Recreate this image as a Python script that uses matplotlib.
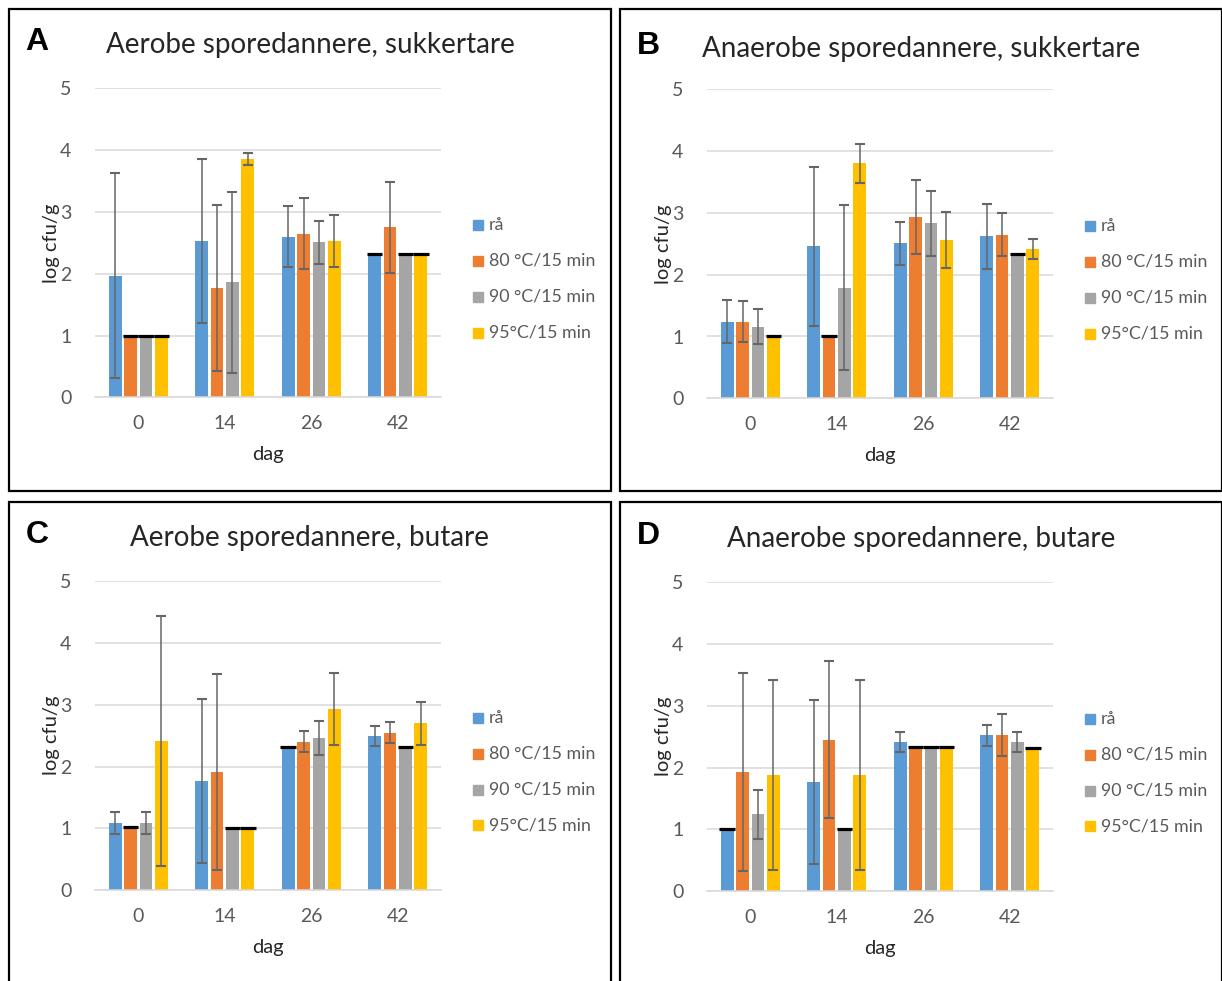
import numpy as np
import matplotlib
matplotlib.use("Agg")
import matplotlib.pyplot as plt
from matplotlib.patches import Rectangle

plt.rcParams['font.family'] = ['Lato', 'DejaVu Sans']

W, H = 1222, 981

days = ["0", "14", "26", "42"]
series = ["rå", "80 °C/15 min", "90 °C/15 min", "95°C/15 min"]
colors = ["#5B9BD5", "#ED7D31", "#A5A5A5", "#FFC000"]

# log cfu/g per series (rows) and day (columns), with +/- error
a_mean = [[1.97, 2.53, 2.60, 2.32],
          [1.00, 1.77, 2.65, 2.75],
          [1.00, 1.86, 2.51, 2.32],
          [1.00, 3.86, 2.53, 2.32]]
a_err = [[1.66, 1.32, 0.49, 0.00],
         [0.00, 1.34, 0.58, 0.74],
         [0.00, 1.47, 0.35, 0.00],
         [0.00, 0.10, 0.42, 0.00]]
# values at the detection limit get a black line on top
a_lim = [[0, 0, 0, 1],
         [1, 0, 0, 0],
         [1, 0, 0, 1],
         [1, 0, 0, 1]]

b_mean = [[1.24, 2.46, 2.51, 2.62],
          [1.24, 1.00, 2.93, 2.65],
          [1.16, 1.79, 2.83, 2.34],
          [1.00, 3.80, 2.56, 2.42]]
b_err = [[0.35, 1.29, 0.35, 0.53],
         [0.33, 0.00, 0.60, 0.35],
         [0.28, 1.34, 0.52, 0.00],
         [0.00, 0.31, 0.45, 0.16]]
b_lim = [[0, 0, 0, 0],
         [0, 1, 0, 0],
         [0, 0, 0, 1],
         [1, 0, 0, 0]]

c_mean = [[1.09, 1.77, 2.32, 2.50],
          [1.02, 1.91, 2.40, 2.55],
          [1.09, 1.00, 2.46, 2.32],
          [2.41, 1.00, 2.93, 2.70]]
c_err = [[0.18, 1.33, 0.00, 0.16],
         [0.00, 1.58, 0.17, 0.17],
         [0.18, 0.00, 0.27, 0.00],
         [2.02, 0.00, 0.58, 0.35]]
c_lim = [[0, 0, 1, 0],
         [1, 0, 0, 0],
         [0, 1, 0, 1],
         [0, 1, 0, 0]]

d_mean = [[1.00, 1.77, 2.41, 2.52],
          [1.93, 2.45, 2.33, 2.52],
          [1.24, 1.00, 2.33, 2.41],
          [1.88, 1.88, 2.33, 2.31]]
d_err = [[0.00, 1.33, 0.16, 0.17],
         [1.60, 1.27, 0.00, 0.34],
         [0.40, 0.00, 0.00, 0.16],
         [1.54, 1.54, 0.00, 0.00]]
d_lim = [[1, 0, 0, 0],
         [0, 0, 1, 0],
         [0, 1, 1, 0],
         [0, 0, 1, 1]]

panels = [
    ("A", "Aerobe sporedannere, sukkertare", a_mean, a_err, a_lim),
    ("B", "Anaerobe sporedannere, sukkertare", b_mean, b_err, b_lim),
    ("C", "Aerobe sporedannere, butare", c_mean, c_err, c_lim),
    ("D", "Anaerobe sporedannere, butare", d_mean, d_err, d_lim),
]

# pixel layout: box left, box top, box bottom, plot left, plot top, plot bottom, title y
layout = [
    (9, 9, 491, 95, 88.3, 397.3, 45),
    (620, 9, 491, 707, 89.3, 398.3, 49),
    (9, 502.5, 995, 95, 581.0, 890.3, 538),
    (620, 502.5, 995, 707, 582.3, 891.0, 539),
]
box_w = 602
plot_w = 346

fig = plt.figure(figsize=(W / 100, H / 100), dpi=100)


def fx(px):
    return px / W


def fy(py):
    return 1 - py / H


spacing = 0.179
bar_w = 0.15
grey = "#595959"

for (letter, title, mean, err, lim), (bx, by, bb, px, ptop, pbot, ty) in zip(panels, layout):
    # panel frame
    fig.add_artist(Rectangle((fx(bx), fy(bb)), fx(box_w), fy(by) - fy(bb),
                             transform=fig.transFigure, fill=False,
                             edgecolor="black", lw=1.6))

    ax = fig.add_axes([fx(px), fy(pbot), fx(plot_w), fy(ptop) - fy(pbot)])
    x = np.arange(len(days))
    for i in range(len(series)):
        xs = x + (i - 1.5) * spacing
        m = np.array(mean[i])
        e = np.array(err[i])
        ax.bar(xs, m, width=bar_w, color=colors[i], zorder=2)
        ok = e > 0
        ax.errorbar(xs[ok], m[ok], yerr=e[ok], fmt="none", ecolor="#666666",
                    elinewidth=1.1, capsize=3.8, capthick=1.5, zorder=3)
        fl = np.array(lim[i]) > 0
        ax.hlines(m[fl], xs[fl] - spacing / 2, xs[fl] + spacing / 2,
                  color="black", lw=2.3, zorder=4)

    ax.set_xlim(-0.5, 3.5)
    ax.set_ylim(0, 5)
    ax.set_yticks(range(6))
    ax.set_xticks(x)
    ax.set_xticklabels(days)
    ax.yaxis.grid(True, color="#D9D9D9", lw=1.1, zorder=0)
    ax.set_axisbelow(True)
    for s in ["top", "right", "left"]:
        ax.spines[s].set_visible(False)
    ax.spines["bottom"].set_color("#D9D9D9")
    ax.spines["bottom"].set_linewidth(1.1)
    ax.tick_params(length=0, labelsize=14, colors=grey)
    ax.tick_params(axis="y", pad=17)
    ax.tick_params(axis="x", pad=13)
    ax.set_xlabel("dag", fontsize=14.5, color="#262626", labelpad=10)
    ax.set_ylabel("log cfu/g", fontsize=14.5, color="#262626", labelpad=0)

    # titles and panel letter
    fig.text(fx(bx + 301), fy(ty), title, ha="center", va="center",
             fontsize=20, color="#262626")
    fig.text(fx(bx + 28), fy(ty - 3), letter, ha="center", va="center",
             fontsize=23, fontweight="bold", family=["Liberation Sans"])

    # legend
    lx = px + 378
    ly = (ptop + pbot) / 2 + 36
    for i, lab in enumerate(series):
        yy = ly + (i - 1.5) * 35.8
        fig.add_artist(Rectangle((fx(lx), fy(yy + 5)), fx(10), fy(yy - 5) - fy(yy + 5),
                                 transform=fig.transFigure, color=colors[i]))
        fig.text(fx(lx + 16), fy(yy), lab, ha="left", va="center",
                 fontsize=12.8, color=grey)

fig.savefig("out.png", dpi=100)
